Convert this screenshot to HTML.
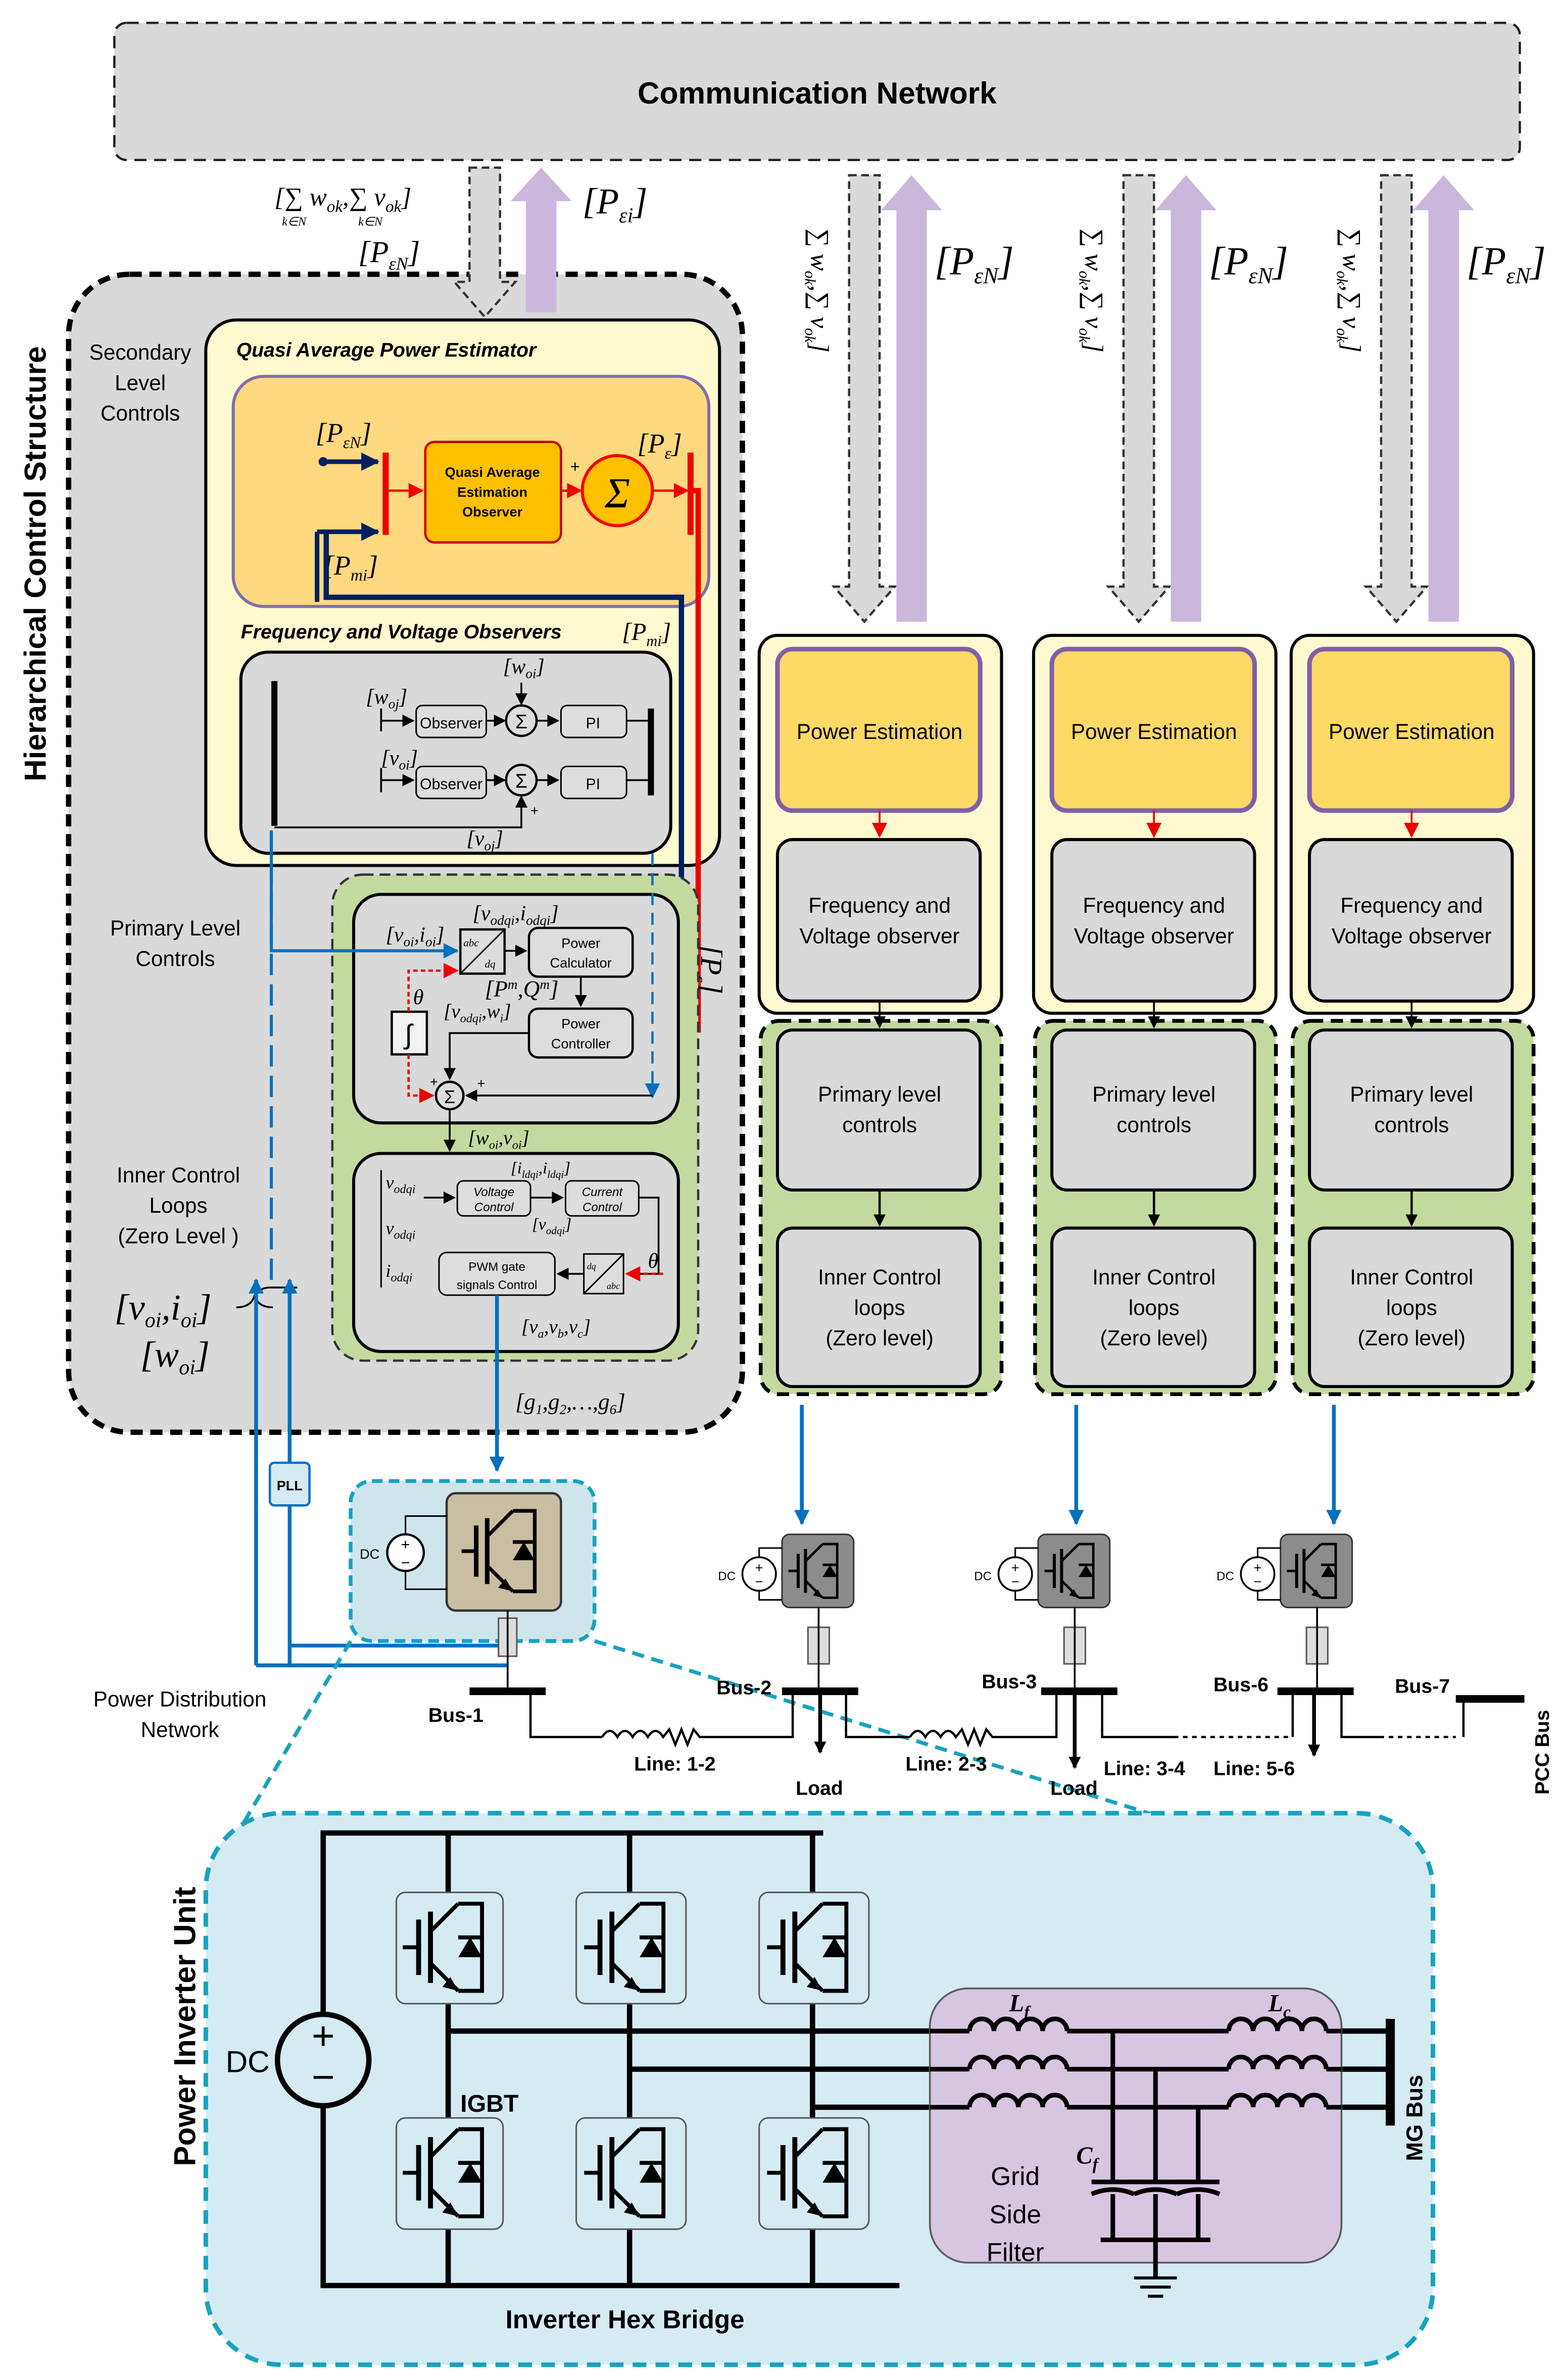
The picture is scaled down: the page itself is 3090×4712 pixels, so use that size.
<!DOCTYPE html>
<html><head><meta charset="utf-8"><style>
html,body{margin:0;padding:0;background:#fff}
svg{display:block}
text{font-family:"Liberation Sans",sans-serif}
.m{font-family:"Liberation Serif",serif;font-style:italic}
</style></head><body>
<svg width="3090" height="4712" viewBox="0 0 1024 1562" preserveAspectRatio="none" xmlns="http://www.w3.org/2000/svg">
<defs>
<marker id="ab" markerWidth="8" markerHeight="8" refX="7" refY="4" orient="auto" markerUnits="userSpaceOnUse"><path d="M0,0L8,4L0,8z" fill="#000"/></marker>
<marker id="ar" markerWidth="10" markerHeight="10" refX="9" refY="5" orient="auto" markerUnits="userSpaceOnUse"><path d="M0,0L10,5L0,10z" fill="#e00"/></marker>
<marker id="abl" markerWidth="10" markerHeight="10" refX="9" refY="5" orient="auto" markerUnits="userSpaceOnUse"><path d="M0,0L10,5L0,10z" fill="#0070c0"/></marker>
<marker id="adb" markerWidth="12" markerHeight="12" refX="11" refY="6" orient="auto" markerUnits="userSpaceOnUse"><path d="M0,0L12,6L0,12z" fill="#002060"/></marker>
<g id="igbt"><line x1="-18" y1="-14" x2="-18" y2="14" stroke="#000" stroke-width="2.5"/><line x1="-26" y1="0" x2="-18" y2="0" stroke="#000" stroke-width="2"/><line x1="-12" y1="-18" x2="-12" y2="18" stroke="#000" stroke-width="2.5"/><path d="M-12,-8L2,-22M-12,8L2,22" stroke="#000" stroke-width="2" fill="none"/><path d="M2,22l-8,-2 4,-5z" fill="#000"/><path d="M2,-22H14V22H2" stroke="#000" stroke-width="2" fill="none"/><path d="M8,-5L14,5H2z" fill="#000"/><line x1="2" y1="-5" x2="14" y2="-5" stroke="#000" stroke-width="2"/></g>
</defs>

<rect x="75" y="15" width="922" height="90" rx="8" fill="#d9d9d9" stroke="#222" stroke-width="1.5" stroke-dasharray="8,5"/>
<text x="536" y="68" font-size="20" font-weight="bold" text-anchor="middle">Communication Network</text>

<rect x="45" y="180" width="442" height="760" rx="40" fill="#d9d9d9" stroke="#000" stroke-width="3.5" stroke-dasharray="8,5"/>
<text transform="translate(30,370) rotate(-90)" font-size="20" font-weight="bold" text-anchor="middle">Hierarchical Control Structure</text>
<text x="92" y="236" font-size="14" text-anchor="middle">Secondary</text>
<text x="92" y="256" font-size="14" text-anchor="middle">Level</text>
<text x="92" y="276" font-size="14" text-anchor="middle">Controls</text>
<text x="115" y="614" font-size="14" text-anchor="middle">Primary Level</text>
<text x="115" y="634" font-size="14" text-anchor="middle">Controls</text>
<text x="117" y="776" font-size="14" text-anchor="middle">Inner Control</text>
<text x="117" y="796" font-size="14" text-anchor="middle">Loops</text>
<text x="117" y="816" font-size="14" text-anchor="middle">(Zero Level )</text>

<path d="M308,110H328V185H338L318,208L298,185H308Z" fill="#d9d9d9" stroke="#333" stroke-width="1.5" stroke-dasharray="5,3"/>
<path d="M345,205V132H335L355,110L375,132H365V205Z" fill="#c9b8dc"/>
<text x="180" y="135" class="m" font-size="17">[∑ w<tspan font-size="11" dy="4">ok</tspan><tspan dy="-4">,∑ v</tspan><tspan font-size="11" dy="4">ok</tspan><tspan dy="-4">]</tspan></text>
<text x="185" y="148" class="m" font-size="8">k∈N</text><text x="235" y="148" class="m" font-size="8">k∈N</text>
<text x="235" y="172" class="m" font-size="20">[P<tspan font-size="12" dy="5">εN</tspan><tspan dy="-5">]</tspan></text>
<text x="382" y="140" class="m" font-size="24">[P<tspan font-size="14" dy="6">εi</tspan><tspan dy="-6">]</tspan></text>

<rect x="135" y="210" width="337" height="358" rx="20" fill="#fff9d0" stroke="#000" stroke-width="2"/>
<text x="155" y="234" font-size="13" font-style="italic" font-weight="bold">Quasi Average Power Estimator</text>
<rect x="153" y="247" width="312" height="151" rx="20" fill="#ffd980" stroke="#7f6fa8" stroke-width="2"/>
<rect x="279" y="290" width="89" height="66" rx="6" fill="#ffc000" stroke="#c00000" stroke-width="1.5"/>
<text x="323" y="313" font-size="9" font-weight="bold" text-anchor="middle">Quasi Average</text>
<text x="323" y="326" font-size="9" font-weight="bold" text-anchor="middle">Estimation</text>
<text x="323" y="339" font-size="9" font-weight="bold" text-anchor="middle">Observer</text>
<line x1="253" y1="297" x2="253" y2="351" stroke="#e00" stroke-width="4"/>
<line x1="453" y1="297" x2="453" y2="351" stroke="#e00" stroke-width="4"/>
<circle cx="405" cy="322" r="23" fill="#ffc000" stroke="#e00" stroke-width="2"/>
<text x="405" y="333" font-size="28" text-anchor="middle" class="m" font-style="normal">Σ</text>
<line x1="255" y1="322" x2="277" y2="322" stroke="#e00" stroke-width="1.5" marker-end="url(#ar)"/>
<line x1="368" y1="322" x2="381" y2="322" stroke="#e00" stroke-width="1.5" marker-end="url(#ar)"/>
<line x1="428" y1="322" x2="451" y2="322" stroke="#e00" stroke-width="1.5" marker-end="url(#ar)"/>
<text x="374" y="310" font-size="11">+</text>
<line x1="212" y1="303" x2="248" y2="303" stroke="#002060" stroke-width="3" marker-end="url(#adb)"/><circle cx="212" cy="303" r="3" fill="#002060"/>
<line x1="208" y1="349" x2="248" y2="349" stroke="#002060" stroke-width="3" marker-end="url(#adb)"/>
<text x="207" y="290" class="m" font-size="18">[P<tspan font-size="11" dy="4">εN</tspan><tspan dy="-4">]</tspan></text>
<text x="212" y="377" class="m" font-size="18">[P<tspan font-size="11" dy="4">mi</tspan><tspan dy="-4">]</tspan></text>
<text x="418" y="297" class="m" font-size="18">[P<tspan font-size="11" dy="4">ε</tspan><tspan dy="-4">]</tspan></text>
<text x="158" y="419" font-size="13" font-style="italic" font-weight="bold">Frequency and Voltage Observers</text>
<text x="408" y="420" class="m" font-size="16">[P<tspan font-size="10" dy="4">mi</tspan><tspan dy="-4">]</tspan></text>
<polyline points="214,349 214,392 447,392 447,622" fill="none" stroke="#002060" stroke-width="3.5"/>
<polyline points="420,622 447,622" fill="none" stroke="#002060" stroke-width="4" marker-end="url(#adb)"/>
<polyline points="208,349 208,395" fill="none" stroke="#002060" stroke-width="3"/>
<polyline points="453,322 458,322 458,676 420,676" fill="none" stroke="#e00" stroke-width="3.5" marker-end="url(#ar)"/>
<text transform="translate(460,620) rotate(90)" class="m" font-size="20">[P<tspan font-size="12" dy="5">ε</tspan><tspan dy="-5">]</tspan></text>

<rect x="158" y="428" width="282" height="132" rx="18" fill="#d9d9d9" stroke="#000" stroke-width="2"/>
<line x1="180" y1="447" x2="180" y2="542" stroke="#000" stroke-width="4"/>
<line x1="427" y1="465" x2="427" y2="522" stroke="#000" stroke-width="4"/>
<rect x="273" y="463" width="46" height="21" rx="4" fill="#ddd" stroke="#000"/><text x="296" y="478" font-size="10" text-anchor="middle">Observer</text>
<rect x="273" y="503" width="46" height="21" rx="4" fill="#ddd" stroke="#000"/><text x="296" y="518" font-size="10" text-anchor="middle">Observer</text>
<rect x="368" y="463" width="43" height="21" rx="4" fill="#ddd" stroke="#000"/><text x="389" y="478" font-size="10" text-anchor="middle">PI</text>
<rect x="368" y="503" width="43" height="21" rx="4" fill="#ddd" stroke="#000"/><text x="389" y="518" font-size="10" text-anchor="middle">PI</text>
<circle cx="342" cy="473" r="10" fill="#ddd" stroke="#000" stroke-width="1.5"/><text x="342" y="478" font-size="13" text-anchor="middle">Σ</text>
<circle cx="342" cy="512" r="10" fill="#ddd" stroke="#000" stroke-width="1.5"/><text x="342" y="517" font-size="13" text-anchor="middle">Σ</text>
<g stroke="#000" stroke-width="1.2" fill="none">
<line x1="250" y1="473" x2="271" y2="473" marker-end="url(#ab)"/><line x1="319" y1="473" x2="331" y2="473" marker-end="url(#ab)"/><line x1="352" y1="473" x2="366" y2="473" marker-end="url(#ab)"/><line x1="411" y1="473" x2="425" y2="473"/>
<line x1="250" y1="512" x2="271" y2="512" marker-end="url(#ab)"/><line x1="319" y1="512" x2="331" y2="512" marker-end="url(#ab)"/><line x1="352" y1="512" x2="366" y2="512" marker-end="url(#ab)"/><line x1="411" y1="512" x2="425" y2="512"/>
<line x1="342" y1="448" x2="342" y2="462" marker-end="url(#ab)"/>
<polyline points="180,543 342,543 342,523" marker-end="url(#ab)"/>
<line x1="250" y1="465" x2="250" y2="480"/><line x1="250" y1="504" x2="250" y2="520"/>
</g>
<text x="330" y="442" class="m" font-size="14">[w<tspan font-size="9" dy="3">oi</tspan><tspan dy="-3">]</tspan></text>
<text x="240" y="462" class="m" font-size="14">[w<tspan font-size="9" dy="3">oj</tspan><tspan dy="-3">]</tspan></text>
<text x="250" y="502" class="m" font-size="14">[v<tspan font-size="9" dy="3">oi</tspan><tspan dy="-3">]</tspan></text>
<text x="306" y="555" class="m" font-size="14">[v<tspan font-size="9" dy="3">oj</tspan><tspan dy="-3">]</tspan></text>
<text x="348" y="535" font-size="9">+</text>

<rect x="218" y="574" width="240" height="319" rx="20" fill="#c4d99f" stroke="#333" stroke-width="1.5" stroke-dasharray="7,4"/>
<rect x="232" y="587" width="213" height="150" rx="18" fill="#d9d9d9" stroke="#000" stroke-width="2"/>
<rect x="232" y="757" width="213" height="130" rx="18" fill="#d9d9d9" stroke="#000" stroke-width="2"/>
<line x1="428" y1="560" x2="428" y2="720" stroke="#0070c0" stroke-width="1.5" stroke-dasharray="8,5" marker-end="url(#abl)"/>
<rect x="302" y="610" width="29" height="29" fill="#ddd" stroke="#000" stroke-width="1.5"/><line x1="302" y1="639" x2="331" y2="610" stroke="#000"/>
<text x="304" y="621" class="m" font-size="7">abc</text><text x="318" y="635" class="m" font-size="7">dq</text>
<rect x="347" y="609" width="68" height="32" rx="6" fill="#ddd" stroke="#000" stroke-width="1.5"/>
<text x="381" y="622" font-size="9" text-anchor="middle">Power</text><text x="381" y="635" font-size="9" text-anchor="middle">Calculator</text>
<rect x="347" y="662" width="68" height="32" rx="6" fill="#ddd" stroke="#000" stroke-width="1.5"/>
<text x="381" y="675" font-size="9" text-anchor="middle">Power</text><text x="381" y="688" font-size="9" text-anchor="middle">Controller</text>
<rect x="257" y="664" width="23" height="28" fill="#f2f2f2" stroke="#000" stroke-width="1.5"/><text x="268" y="685" font-size="18" text-anchor="middle">∫</text>
<circle cx="295" cy="719" r="9" fill="#ddd" stroke="#000" stroke-width="1.5"/><text x="295" y="724" font-size="12" text-anchor="middle">Σ</text>
<g stroke="#000" stroke-width="1.2" fill="none">
<line x1="331" y1="624" x2="345" y2="624" marker-end="url(#ab)"/>
<line x1="381" y1="641" x2="381" y2="660" marker-end="url(#ab)"/>
<polyline points="347,678 295,678 295,708" marker-end="url(#ab)"/>
<polyline points="428,719 306,719" marker-end="url(#ab)"/>
<line x1="295" y1="728" x2="295" y2="755" marker-end="url(#ab)"/>
</g>
<polyline points="268,692 268,719 284,719" fill="none" stroke="#e00" stroke-width="1.5" stroke-dasharray="3,2" marker-end="url(#ar)"/>
<polyline points="268,664 268,637 300,637" fill="none" stroke="#e00" stroke-width="1.5" stroke-dasharray="3,2" marker-end="url(#ar)"/>
<text x="271" y="659" class="m" font-size="14">θ</text>
<text x="282" y="713" font-size="9">+</text><text x="313" y="714" font-size="9">+</text>
<text x="253" y="618" class="m" font-size="14">[v<tspan font-size="9" dy="3">oi</tspan><tspan dy="-3">,i</tspan><tspan font-size="9" dy="3">oi</tspan><tspan dy="-3">]</tspan></text>
<text x="310" y="604" class="m" font-size="14">[v<tspan font-size="9" dy="3">odqi</tspan><tspan dy="-3">,i</tspan><tspan font-size="9" dy="3">odqi</tspan><tspan dy="-3">]</tspan></text>
<text x="318" y="654" class="m" font-size="15">[P<tspan font-size="9" dy="-5">m</tspan><tspan dy="5">,Q</tspan><tspan font-size="9" dy="-5">m</tspan><tspan dy="5">]</tspan></text>
<text x="291" y="668" class="m" font-size="13">[v<tspan font-size="8" dy="3">odqi</tspan><tspan dy="-3">,w</tspan><tspan font-size="8" dy="3">i</tspan><tspan dy="-3">]</tspan></text>
<text x="307" y="751" class="m" font-size="13">[w<tspan font-size="8" dy="3">oi</tspan><tspan dy="-3">,v</tspan><tspan font-size="8" dy="3">oi</tspan><tspan dy="-3">]</tspan></text>
<polyline points="178,545 178,624 300,624" fill="none" stroke="#0070c0" stroke-width="2" marker-end="url(#abl)"/>

<line x1="250" y1="768" x2="250" y2="845" stroke="#000"/>
<text x="253" y="780" class="m" font-size="12">v<tspan font-size="8" dy="3">odqi</tspan></text>
<text x="253" y="810" class="m" font-size="12">v<tspan font-size="8" dy="3">odqi</tspan></text>
<text x="253" y="838" class="m" font-size="12">i<tspan font-size="8" dy="3">odqi</tspan></text>
<rect x="300" y="775" width="48" height="23" rx="4" fill="#ddd" stroke="#000"/><text x="324" y="785" font-size="8" font-style="italic" text-anchor="middle">Voltage</text><text x="324" y="795" font-size="8" font-style="italic" text-anchor="middle">Control</text>
<rect x="371" y="775" width="48" height="23" rx="4" fill="#ddd" stroke="#000"/><text x="395" y="785" font-size="8" font-style="italic" text-anchor="middle">Current</text><text x="395" y="795" font-size="8" font-style="italic" text-anchor="middle">Control</text>
<rect x="288" y="822" width="76" height="28" rx="5" fill="#ddd" stroke="#000"/><text x="326" y="834" font-size="8" text-anchor="middle">PWM gate</text><text x="326" y="846" font-size="8" text-anchor="middle">signals Control</text>
<rect x="383" y="823" width="26" height="26" fill="#ddd" stroke="#000"/><line x1="383" y1="849" x2="409" y2="823" stroke="#000"/>
<text x="385" y="833" class="m" font-size="6">dq</text><text x="398" y="846" class="m" font-size="6">abc</text>
<g stroke="#000" stroke-width="1.2" fill="none">
<line x1="278" y1="786" x2="298" y2="786" marker-end="url(#ab)"/>
<line x1="348" y1="786" x2="369" y2="786" marker-end="url(#ab)"/>
<polyline points="419,786 432,786 432,836 411,836"/><line x1="383" y1="836" x2="366" y2="836" marker-end="url(#ab)"/>
</g>
<line x1="435" y1="836" x2="411" y2="836" stroke="#e00" stroke-width="1.5" stroke-dasharray="3,2" marker-end="url(#ar)"/>
<text x="425" y="832" class="m" font-size="14">θ</text>
<text x="335" y="770" class="m" font-size="11">[i<tspan font-size="7" dy="3">ldqi</tspan><tspan dy="-3">,i</tspan><tspan font-size="7" dy="3">ldqi</tspan><tspan dy="-3">]</tspan></text>
<text x="349" y="807" class="m" font-size="11">[v<tspan font-size="7" dy="3">odqi</tspan><tspan dy="-3">]</tspan></text>
<text x="342" y="875" class="m" font-size="13">[v<tspan font-size="8" dy="3">a</tspan><tspan dy="-3">,v</tspan><tspan font-size="8" dy="3">b</tspan><tspan dy="-3">,v</tspan><tspan font-size="8" dy="3">c</tspan><tspan dy="-3">]</tspan></text>
<text x="338" y="925" class="m" font-size="15">[g<tspan font-size="9" dy="3">1</tspan><tspan dy="-3">,g</tspan><tspan font-size="9" dy="3">2</tspan><tspan dy="-3">,…,g</tspan><tspan font-size="9" dy="3">6</tspan><tspan dy="-3">]</tspan></text>
<polyline points="326,850 326,965" fill="none" stroke="#0070c0" stroke-width="2.5" marker-end="url(#abl)"/>

<text x="75" y="866" class="m" font-size="24">[v<tspan font-size="14" dy="5">oi</tspan><tspan dy="-5">,i</tspan><tspan font-size="14" dy="5">oi</tspan><tspan dy="-5">]</tspan></text>
<text x="92" y="897" class="m" font-size="24">[w<tspan font-size="14" dy="5">oi</tspan><tspan dy="-5">]</tspan></text>
<path d="M155,858 q10,0 12,-8 q2,8 12,8 M167,850 q4,-5 10,-5 h18" fill="none" stroke="#000" stroke-width="1.2"/>
<line x1="178" y1="840" x2="178" y2="545" stroke="#0070c0" stroke-width="2" stroke-dasharray="14,6"/>
<line x1="168" y1="1093" x2="168" y2="840" stroke="#0070c0" stroke-width="2.5" marker-end="url(#abl)"/>
<line x1="190" y1="1093" x2="190" y2="840" stroke="#0070c0" stroke-width="2.5" marker-end="url(#abl)"/>
<rect x="177" y="960" width="26" height="28" rx="3" fill="#d5ebf2" stroke="#0070c0" stroke-width="1.5"/>
<text x="190" y="978" font-size="9" font-weight="bold" text-anchor="middle">PLL</text>
<polyline points="168,1093 333,1093" fill="none" stroke="#0070c0" stroke-width="2.5"/>
<polyline points="190,1080 333,1080" fill="none" stroke="#0070c0" stroke-width="2.5"/>

<g id="col">
<rect x="498" y="417" width="159" height="248" rx="12" fill="#fff9d0" stroke="#000" stroke-width="2"/>
<rect x="510" y="426" width="133" height="106" rx="10" fill="#ffd966" stroke="#7f5fa8" stroke-width="3"/>
<text x="577" y="485" font-size="14" text-anchor="middle">Power Estimation</text>
<line x1="577" y1="532" x2="577" y2="549" stroke="#e00" stroke-width="1.2" marker-end="url(#ar)"/>
<rect x="510" y="551" width="133" height="106" rx="10" fill="#d9d9d9" stroke="#000" stroke-width="2"/>
<text x="577" y="599" font-size="14" text-anchor="middle">Frequency and</text>
<text x="577" y="619" font-size="14" text-anchor="middle">Voltage observer</text>
<rect x="499" y="670" width="158" height="245" rx="12" fill="#c4d99f" stroke="#000" stroke-width="2.5" stroke-dasharray="8,5"/>
<line x1="577" y1="657" x2="577" y2="674" stroke="#000" stroke-width="1.2" marker-end="url(#ab)"/>
<rect x="510" y="676" width="133" height="105" rx="10" fill="#d9d9d9" stroke="#000" stroke-width="2"/>
<text x="577" y="723" font-size="14" text-anchor="middle">Primary level</text>
<text x="577" y="743" font-size="14" text-anchor="middle">controls</text>
<line x1="577" y1="781" x2="577" y2="804" stroke="#000" stroke-width="1.5" marker-end="url(#ab)"/>
<rect x="510" y="806" width="133" height="104" rx="10" fill="#d9d9d9" stroke="#000" stroke-width="2"/>
<text x="577" y="843" font-size="14" text-anchor="middle">Inner Control</text>
<text x="577" y="863" font-size="14" text-anchor="middle">loops</text>
<text x="577" y="883" font-size="14" text-anchor="middle">(Zero level)</text>
<path d="M557,115H577V385H587L567,408L547,385H557Z" fill="#d9d9d9" stroke="#333" stroke-width="1.5" stroke-dasharray="5,3"/>
<path d="M588,408V138H578L598,115L618,138H608V408Z" fill="#c9b8dc"/>
<text x="613" y="180" class="m" font-size="26">[P<tspan font-size="15" dy="6">εN</tspan><tspan dy="-6">]</tspan></text>
<text transform="translate(532,150) rotate(90)" class="m" font-size="17">∑ w<tspan font-size="10" dy="4">ok</tspan><tspan dy="-4">,∑ v</tspan><tspan font-size="10" dy="4">ok</tspan><tspan dy="-4">]</tspan></text>
<line x1="526" y1="922" x2="526" y2="1000" stroke="#0070c0" stroke-width="2.5" marker-end="url(#abl)"/>
</g>
<use href="#col" transform="translate(180,0)"/>
<use href="#col" transform="translate(349,0)"/>

<rect x="230" y="972" width="160" height="105" rx="14" fill="#cfe5ec" stroke="#17a2c0" stroke-width="2.5" stroke-dasharray="7,4"/>
<rect x="293" y="980" width="75" height="77" rx="6" fill="#c9bda2" stroke="#333" stroke-width="1.5"/>
<use href="#igbt" transform="translate(334,1018) scale(1.2)"/>
<circle cx="266" cy="1019" r="12" fill="#fff" stroke="#000" stroke-width="1.5"/><text x="266" y="1017" font-size="10" text-anchor="middle">+</text><text x="266" y="1029" font-size="10" text-anchor="middle">−</text>
<path d="M266,1007V995H293M266,1031V1043H293" fill="none" stroke="#000"/>
<text x="236" y="1023" font-size="9">DC</text>
<rect x="327" y="1062" width="12" height="25" fill="#ddd" stroke="#555"/>
<line x1="333" y1="1057" x2="333" y2="1110" stroke="#000" stroke-width="1.2"/>

<g id="inv">
<rect x="513" y="1007" width="47" height="48" rx="5" fill="#8c8c8c" stroke="#333"/>
<use href="#igbt" transform="translate(538,1031) scale(0.8)"/>
<circle cx="498" cy="1033" r="11" fill="#fff" stroke="#000" stroke-width="1.2"/><text x="498" y="1032" font-size="9" text-anchor="middle">+</text><text x="498" y="1041" font-size="9" text-anchor="middle">−</text>
<path d="M498,1022V1016H513M498,1044V1050H513" fill="none" stroke="#000"/>
<text x="471" y="1037" font-size="8">DC</text>
<rect x="530" y="1068" width="14" height="24" fill="#ddd" stroke="#555"/>
<line x1="537" y1="1055" x2="537" y2="1110" stroke="#000" stroke-width="1.2"/>
</g>
<use href="#inv" transform="translate(168,0)"/>
<use href="#inv" transform="translate(327,0)"/>

<line x1="230" y1="1077" x2="140" y2="1230" stroke="#17a2c0" stroke-width="2.5" stroke-dasharray="8,5"/>
<line x1="390" y1="1077" x2="760" y2="1192" stroke="#17a2c0" stroke-width="2.5" stroke-dasharray="8,5"/>

<g stroke="#000" fill="none">
<line x1="308" y1="1110" x2="358" y2="1110" stroke-width="5"/>
<line x1="513" y1="1110" x2="563" y2="1110" stroke-width="5"/>
<line x1="683" y1="1110" x2="733" y2="1110" stroke-width="5"/>
<line x1="838" y1="1110" x2="888" y2="1110" stroke-width="5"/>
<line x1="955" y1="1115" x2="1000" y2="1115" stroke-width="5"/>
<polyline points="348,1110 348,1140 395,1140" stroke-width="1.5"/>
<path d="M395,1140 q5,-8 10,0 q5,-8 10,0 q5,-8 10,0 q5,-8 10,0 l4,-5 l4,10 l4,-10 l4,10 l4,-10 l4,5 H520 V1110" stroke-width="1.5"/>
<polyline points="555,1110 555,1140 597,1140" stroke-width="1.5"/>
<path d="M597,1140 q5,-8 10,0 q5,-8 10,0 q5,-8 10,0 l4,-5 l4,10 l4,-10 l4,10 l4,-10 l4,5 H693 V1110" stroke-width="1.5"/>
<polyline points="723,1110 723,1140 770,1140" stroke-width="1.5"/>
<line x1="770" y1="1140" x2="848" y2="1140" stroke-width="1.5" stroke-dasharray="3,3"/>
<polyline points="848,1140 848,1110" stroke-width="1.5"/>
<polyline points="880,1110 880,1140 905,1140" stroke-width="1.5"/>
<line x1="905" y1="1140" x2="955" y2="1140" stroke-width="1.5" stroke-dasharray="3,3"/>
<polyline points="960,1140 960,1115" stroke-width="1.5"/>
<line x1="538" y1="1110" x2="538" y2="1150" stroke-width="2.5" marker-end="url(#ab)"/>
<line x1="705" y1="1110" x2="705" y2="1160" stroke-width="2.5" marker-end="url(#ab)"/>
<line x1="862" y1="1110" x2="862" y2="1152" stroke-width="2.5" marker-end="url(#ab)"/>
</g>
<g font-size="13" font-weight="bold">
<text x="281" y="1130">Bus-1</text><text x="470" y="1112">Bus-2</text><text x="644" y="1108">Bus-3</text><text x="796" y="1110">Bus-6</text><text x="915" y="1111">Bus-7</text>
<text x="416" y="1162">Line: 1-2</text><text x="594" y="1162">Line: 2-3</text><text x="724" y="1165">Line: 3-4</text><text x="796" y="1165">Line: 5-6</text>
<text x="522" y="1178">Load</text><text x="689" y="1178">Load</text>
<text transform="translate(1016,1150) rotate(-90)" text-anchor="middle">PCC Bus</text>
</g>
<text x="118" y="1120" font-size="14" text-anchor="middle">Power Distribution</text>
<text x="118" y="1140" font-size="14" text-anchor="middle">Network</text>

<rect x="135" y="1190" width="805" height="362" rx="50" fill="#d5ebf2" stroke="#17a2c0" stroke-width="3" stroke-dasharray="9,6"/>
<text transform="translate(128,1330) rotate(-90)" font-size="20" font-weight="bold" text-anchor="middle">Power Inverter Unit</text>
<g stroke="#000" stroke-width="3.5" fill="none">
<polyline points="212,1322 212,1203 540,1203"/>
<polyline points="212,1382 212,1500 590,1500"/>
<line x1="294" y1="1203" x2="294" y2="1500"/><line x1="413" y1="1203" x2="413" y2="1500"/><line x1="533" y1="1203" x2="533" y2="1500"/>
<line x1="294" y1="1333" x2="910" y2="1333"/><line x1="413" y1="1358" x2="910" y2="1358"/><line x1="533" y1="1383" x2="910" y2="1383"/>
<line x1="912" y1="1325" x2="912" y2="1395" stroke-width="6"/>
</g>
<circle cx="212" cy="1352" r="30" fill="#d5ebf2" stroke="#000" stroke-width="3.5"/>
<text x="212" y="1345" font-size="26" text-anchor="middle">+</text><text x="212" y="1372" font-size="26" text-anchor="middle">−</text>
<text x="148" y="1360" font-size="20">DC</text>
<g fill="#d5ebf2" stroke="#555" stroke-width="1">
<rect x="260" y="1242" width="70" height="73" rx="6"/><rect x="378" y="1242" width="72" height="73" rx="6"/><rect x="498" y="1242" width="72" height="73" rx="6"/>
<rect x="260" y="1390" width="70" height="73" rx="6"/><rect x="378" y="1390" width="72" height="73" rx="6"/><rect x="498" y="1390" width="72" height="73" rx="6"/>
</g>
<use href="#igbt" transform="translate(298,1278) scale(1.3)"/><use href="#igbt" transform="translate(417,1278) scale(1.3)"/><use href="#igbt" transform="translate(537,1278) scale(1.3)"/>
<use href="#igbt" transform="translate(298,1426) scale(1.3)"/><use href="#igbt" transform="translate(417,1426) scale(1.3)"/><use href="#igbt" transform="translate(537,1426) scale(1.3)"/>
<text x="302" y="1386" font-size="16" font-weight="bold">IGBT</text>
<rect x="610" y="1305" width="270" height="180" rx="25" fill="#d8c5e0" stroke="#555" stroke-width="1.2" opacity="0.95"/>
<g stroke="#000" stroke-width="3" fill="none">
<line x1="610" y1="1333" x2="880" y2="1333"/><line x1="610" y1="1358" x2="880" y2="1358"/><line x1="610" y1="1383" x2="880" y2="1383"/>
</g>
<g fill="#d8c5e0" stroke="none"><rect x="636" y="1320" width="64" height="70"/><rect x="806" y="1320" width="64" height="70"/></g>
<g stroke="#000" stroke-width="3" fill="none">
<path d="M636,1333 a8,8 0 0 1 16,0 a8,8 0 0 1 16,0 a8,8 0 0 1 16,0 a8,8 0 0 1 16,0"/>
<path d="M636,1358 a8,8 0 0 1 16,0 a8,8 0 0 1 16,0 a8,8 0 0 1 16,0 a8,8 0 0 1 16,0"/>
<path d="M636,1383 a8,8 0 0 1 16,0 a8,8 0 0 1 16,0 a8,8 0 0 1 16,0 a8,8 0 0 1 16,0"/>
<path d="M806,1333 a8,8 0 0 1 16,0 a8,8 0 0 1 16,0 a8,8 0 0 1 16,0 a8,8 0 0 1 16,0"/>
<path d="M806,1358 a8,8 0 0 1 16,0 a8,8 0 0 1 16,0 a8,8 0 0 1 16,0 a8,8 0 0 1 16,0"/>
<path d="M806,1383 a8,8 0 0 1 16,0 a8,8 0 0 1 16,0 a8,8 0 0 1 16,0 a8,8 0 0 1 16,0"/>
<line x1="730" y1="1333" x2="730" y2="1432"/><line x1="758" y1="1358" x2="758" y2="1432"/><line x1="786" y1="1383" x2="786" y2="1432"/>
<path d="M716,1432h28M716,1440q14,-6 28,0M744,1432h28M744,1440q14,-6 28,0M772,1432h28M772,1440q14,-6 28,0"/>
<line x1="730" y1="1440" x2="730" y2="1470"/><line x1="758" y1="1440" x2="758" y2="1470"/><line x1="786" y1="1440" x2="786" y2="1470"/>
<line x1="722" y1="1470" x2="794" y2="1470"/>
<line x1="758" y1="1470" x2="758" y2="1495"/>
<path d="M744,1495h28M748,1501h20M753,1507h10" stroke-width="2"/>
</g>
<text x="662" y="1320" class="m" font-size="16" font-weight="bold">L<tspan font-size="11" dy="4">f</tspan></text>
<text x="832" y="1320" class="m" font-size="16" font-weight="bold">L<tspan font-size="11" dy="4">c</tspan></text>
<text x="706" y="1420" class="m" font-size="16" font-weight="bold">C<tspan font-size="11" dy="4">f</tspan></text>
<text x="666" y="1434" font-size="17" text-anchor="middle">Grid</text>
<text x="666" y="1459" font-size="17" text-anchor="middle">Side</text>
<text x="666" y="1484" font-size="17" text-anchor="middle">Filter</text>
<text transform="translate(933,1390) rotate(-90)" font-size="15" font-weight="bold" text-anchor="middle">MG Bus</text>
<text x="410" y="1528" font-size="17" font-weight="bold" text-anchor="middle">Inverter Hex Bridge</text>
</svg>
</body></html>
